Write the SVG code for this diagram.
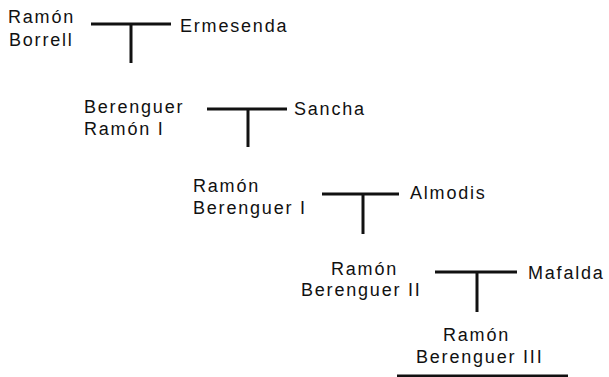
<svg xmlns="http://www.w3.org/2000/svg" width="609" height="377" viewBox="0 0 609 377">
<style>
text{font-family:"Liberation Sans",Arial,sans-serif;font-size:18px;letter-spacing:1.8px;fill:#111}
.c line{stroke:#111;stroke-width:3;fill:none}
</style>
<rect width="609" height="377" fill="#fff"/>
<g id="ramon-borrell"><text x="8" y="23">Ramón</text><text x="9" y="46">Borrell</text></g>
<g id="ermesenda"><text x="180" y="32">Ermesenda</text></g>
<g id="berenguer-ramon-i"><text x="84" y="113">Berenguer</text><text x="84" y="135">Ramón I</text></g>
<g id="sancha"><text x="294" y="115">Sancha</text></g>
<g id="ramon-berenguer-i"><text x="193" y="192">Ramón</text><text x="193" y="214">Berenguer I</text></g>
<g id="almodis"><text x="410" y="199">Almodis</text></g>
<g id="ramon-berenguer-ii"><text x="331" y="275">Ramón</text><text x="301" y="296">Berenguer II</text></g>
<g id="mafalda"><text x="528" y="279">Mafalda</text></g>
<g id="ramon-berenguer-iii"><text x="443" y="341">Ramón</text><text x="416" y="363">Berenguer III</text></g>
<g class="c" id="connectors">
<line x1="91" y1="24" x2="171" y2="24"/><line x1="131" y1="24" x2="131" y2="63"/>
<line x1="207" y1="109" x2="287" y2="109"/><line x1="248" y1="109" x2="248" y2="147"/>
<line x1="322" y1="194" x2="399" y2="194"/><line x1="363" y1="194" x2="363" y2="234"/>
<line x1="435" y1="272" x2="517" y2="272"/><line x1="477" y1="272" x2="477" y2="312"/>
<line x1="397" y1="376" x2="568" y2="376"/>
</g>
</svg>
